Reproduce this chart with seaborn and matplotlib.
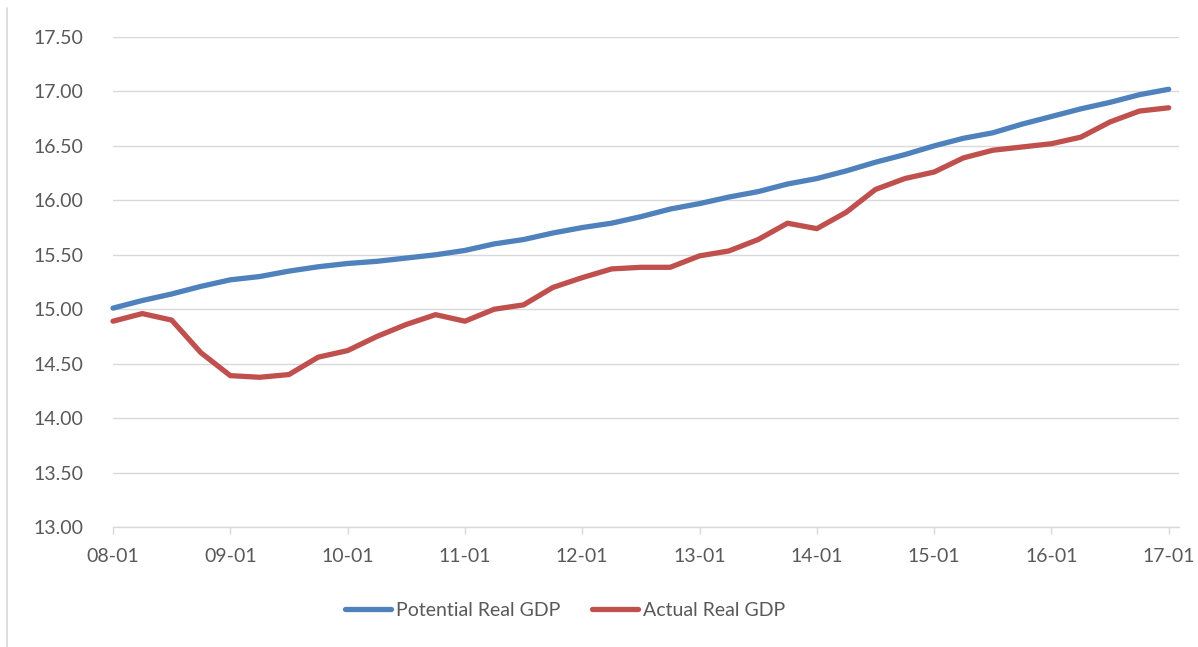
import numpy as np
import pandas as pd
import matplotlib
matplotlib.use("Agg")
import matplotlib.pyplot as plt
import seaborn as sns
from matplotlib.lines import Line2D

quarters = ["08-01","08-04","08-07","08-10","09-01","09-04","09-07","09-10",
            "10-01","10-04","10-07","10-10","11-01","11-04","11-07","11-10",
            "12-01","12-04","12-07","12-10","13-01","13-04","13-07","13-10",
            "14-01","14-04","14-07","14-10","15-01","15-04","15-07","15-10",
            "16-01","16-04","16-07","16-10","17-01"]

potential = [15.01, 15.08, 15.14, 15.21, 15.27, 15.30, 15.35, 15.39, 15.42, 15.44,
             15.47, 15.50, 15.54, 15.60, 15.64, 15.70, 15.75, 15.79, 15.85, 15.92,
             15.97, 16.03, 16.08, 16.15, 16.20, 16.27, 16.35, 16.42, 16.50, 16.57,
             16.62, 16.70, 16.77, 16.84, 16.90, 16.97, 17.02]

actual = [14.89, 14.96, 14.90, 14.60, 14.39, 14.375, 14.40, 14.56, 14.62, 14.75,
          14.86, 14.95, 14.89, 15.00, 15.04, 15.20, 15.29, 15.37, 15.385, 15.385,
          15.49, 15.535, 15.64, 15.79, 15.74, 15.89, 16.10, 16.20, 16.26, 16.39,
          16.46, 16.49, 16.52, 16.58, 16.72, 16.82, 16.85]

series_names = ["Potential Real GDP", "Actual Real GDP"]
colors = ["#4F81BD", "#C0504D"]
y_ticks = [13.0, 13.5, 14.0, 14.5, 15.0, 15.5, 16.0, 16.5, 17.0, 17.5]

idx = np.arange(len(quarters))
df = pd.DataFrame({
    "q": np.concatenate([idx, idx]),
    "value": potential + actual,
    "series": [series_names[0]] * len(idx) + [series_names[1]] * len(idx),
})

sns.set_theme(style="white")
plt.rcParams["font.family"] = ["Lato", "DejaVu Sans"]

FS = 14

fig = plt.figure(figsize=(11.98, 6.47), dpi=100)
ax = fig.add_axes([113/1198, 1-527/647, (1179-113)/1198, (527-37)/647])

sns.lineplot(data=df, x="q", y="value", hue="series", palette=colors,
             linewidth=3.8, ax=ax, legend=False)
for ln in ax.get_lines():
    ln.set_solid_capstyle("round")
    ln.set_solid_joinstyle("round")
    ln.set_clip_on(False)

ax.set_xlim(0, 36.35)
ax.set_ylim(13.0, 17.5)
ax.set_yticks(y_ticks)
ax.set_yticklabels([f"{v:.2f}" for v in y_ticks])
tick_pos = idx[::4]
ax.set_xticks(tick_pos)
ax.set_xticklabels([quarters[i] for i in tick_pos])
ax.set_xlabel("")
ax.set_ylabel("")

ax.grid(axis="y", color="#D9D9D9", linewidth=1.0)
ax.set_axisbelow(True)
for s in ["top", "right", "left"]:
    ax.spines[s].set_visible(False)
ax.spines["bottom"].set_color("#D9D9D9")
ax.spines["bottom"].set_linewidth(1.0)

ax.tick_params(axis="y", length=0, pad=21, labelsize=FS, labelcolor="#595959")
ax.tick_params(axis="x", length=5, width=1.0, color="#D9D9D9", direction="out",
               pad=10, labelsize=FS, labelcolor="#595959", bottom=True)

handles = [Line2D([0], [0], color=c, linewidth=3.8, solid_capstyle="round") for c in colors]
fig.legend(handles, series_names, loc="center", bbox_to_anchor=(565/1198, 1-610/647),
           ncol=2, frameon=False, fontsize=FS, handlelength=2.4, handletextpad=0.25,
           columnspacing=1.6, labelcolor="#595959")

fig.add_artist(Line2D([7/1198, 7/1198], [0, 1-8/647], color="#D9D9D9", linewidth=1.2,
                      transform=fig.transFigure))

fig.savefig("out.png", dpi=100, facecolor="white")
